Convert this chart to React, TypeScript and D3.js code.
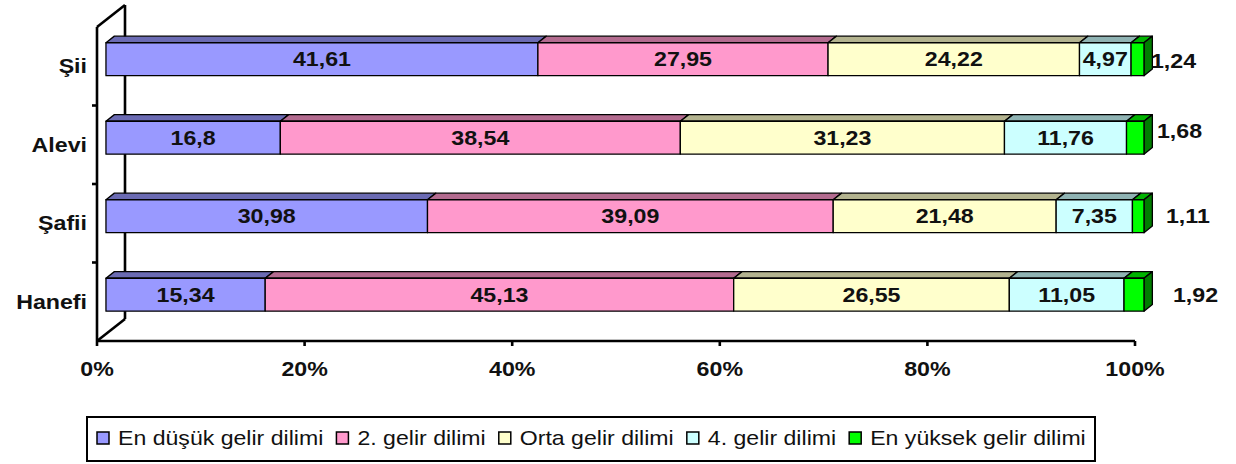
import React from "react";
import * as d3 from "d3";

// categories (top to bottom) and the five income bands
const categories = ["Şii", "Alevi", "Şafii", "Hanefi"];
const seriesNames = [
  "En düşük gelir dilimi",
  "2. gelir dilimi",
  "Orta gelir dilimi",
  "4. gelir dilimi",
  "En yüksek gelir dilimi",
];
const enDusuk = [41.61, 16.8, 30.98, 15.34];
const ikinci = [27.95, 38.54, 39.09, 45.13];
const orta = [24.22, 31.23, 21.48, 26.55];
const dorduncu = [4.97, 11.76, 7.35, 11.05];
const enYuksek = [1.24, 1.68, 1.11, 1.92];
const tickValues = [0, 0.2, 0.4, 0.6, 0.8, 1];

const colors = ["#9999FF", "#FF99CC", "#FFFFCC", "#CCFFFF", "#00FF00"];
// the labels of the last band sit right of the bar, each nudged by hand
const outsideNudge = [[7, 2], [13, -7], [22, 0], [29, 0]];

const W = 1236;
const H = 464;
const FONT = "'Liberation Sans', Arial, sans-serif";
const BOLD_SIZE = 20;
const BOLD_SX = 1.16;
const LEG_SIZE = 20;
const LEG_SX = 1.155;

const floorX0 = 97, floorX1 = 1135, floorY = 341, topY = 27;
const depth = [28, -22];
const barFront = 0.32, barBack = 0.62;

const fmt = (v: number) => String(v).replace(".", ",");

const measure = (() => {
  let ctx: CanvasRenderingContext2D | null = null;
  return (txt: string, font: string) => {
    if (!ctx) ctx = document.createElement("canvas").getContext("2d");
    ctx!.font = font;
    return ctx!.measureText(txt).width;
  };
})();

const series = [enDusuk, ikinci, orta, dorduncu, enYuksek];
const rows = categories.map((c, i) => {
  const r: any = { cat: c };
  seriesNames.forEach((s, j) => (r[s] = series[j][i]));
  return r;
});

const Txt = ({ x, y, sx, anchor, weight, size, children }: any) => (
  <g transform={`translate(${x},${y}) scale(${sx},1)`}>
    <text
      textAnchor={anchor}
      dominantBaseline="central"
      fontFamily={FONT}
      fontWeight={weight}
      fontSize={size}
      fill="#111"
    >
      {children}
    </text>
  </g>
);

export default function App() {
  const x = d3.scaleLinear().domain([0, 1]).range([floorX0, floorX1]);
  const y = d3
    .scaleBand()
    .domain(categories)
    .range([topY, floorY])
    .paddingInner(0.58)
    .paddingOuter(0.29);

  const stacked = d3
    .stack()
    .keys(seriesNames)
    .offset(d3.stackOffsetExpand)(rows);

  const fx = depth[0] * barFront;
  const fy = depth[1] * barFront;
  const ddx = depth[0] * (barBack - barFront);
  const ddy = depth[1] * (barBack - barFront);
  const bh = y.bandwidth();

  const backX = floorX0 + depth[0];
  const lineStyle = { stroke: "#000", strokeWidth: 2.6, fill: "none" };

  // legend layout
  const legFont = `${LEG_SIZE}px ${FONT}`;
  let lx = 97;
  const legItems = seriesNames.map((s, i) => {
    const w = measure(s, legFont) * LEG_SX;
    const item = { name: s, color: colors[i], mx: lx, tx: lx + 21 };
    lx += 21 + w + 13;
    return item;
  });

  return (
    <svg
      width={W}
      height={H}
      style={{ position: "absolute", left: 0, top: 0, background: "#fff" }}
    >
      {/* walls and floor edges */}
      <line x1={floorX0} y1={topY} x2={floorX0} y2={floorY} style={lineStyle} />
      <line x1={backX} y1={topY + depth[1]} x2={backX} y2={floorY + depth[1]} style={lineStyle} />
      <line x1={floorX0} y1={topY} x2={backX} y2={topY + depth[1]} style={lineStyle} />
      <line x1={floorX0} y1={floorY} x2={backX} y2={floorY + depth[1]} style={lineStyle} />
      <line x1={floorX0} y1={floorY} x2={floorX1} y2={floorY} style={lineStyle} />
      {[1, 2, 3].map((k) => (
        <line
          key={k}
          x1={floorX0 - 5}
          x2={floorX0}
          y1={topY + k * y.step()}
          y2={topY + k * y.step()}
          style={lineStyle}
        />
      ))}
      {tickValues.map((t) => (
        <g key={t}>
          <line x1={x(t)} x2={x(t)} y1={floorY} y2={floorY + 5} style={lineStyle} />
          <Txt x={x(t)} y={369} sx={BOLD_SX} anchor="middle" weight="bold" size={BOLD_SIZE}>
            {d3.format(".0%")(t)}
          </Txt>
        </g>
      ))}

      {/* category labels */}
      {categories.map((c) => (
        <Txt key={c} x={87} y={y(c)! + bh / 2} sx={BOLD_SX} anchor="end" weight="bold" size={BOLD_SIZE}>
          {c}
        </Txt>
      ))}

      {/* labels of the last band, partly hidden by the bar side */}
      {categories.map((c, i) => {
        const last = stacked[stacked.length - 1][i];
        return (
          <Txt
            key={c}
            x={x(last[1]) + fx + outsideNudge[i][0]}
            y={y(c)! + fy + bh / 2 + outsideNudge[i][1]}
            sx={BOLD_SX}
            anchor="start"
            weight="bold"
            size={BOLD_SIZE}
          >
            {fmt(enYuksek[i])}
          </Txt>
        );
      })}

      {/* 3D bars */}
      {categories.map((c, i) => {
        const yt = y(c)! + fy;
        const yb = yt + bh;
        return (
          <g key={c}>
            {stacked.map((s, j) => {
              const x0 = x(s[i][0]) + fx;
              const x1 = x(s[i][1]) + fx;
              const col = d3.color(colors[j])!;
              const isLast = j === stacked.length - 1;
              return (
                <g key={j} stroke="#000" strokeWidth={1.3} strokeLinejoin="round">
                  <polygon
                    points={`${x0},${yt} ${x0 + ddx},${yt + ddy} ${x1 + ddx},${yt + ddy} ${x1},${yt}`}
                    fill={col.darker(1).toString()}
                  />
                  {isLast && (
                    <polygon
                      points={`${x1},${yt} ${x1 + ddx},${yt + ddy} ${x1 + ddx},${yb + ddy} ${x1},${yb}`}
                      fill={col.darker(2).toString()}
                    />
                  )}
                  <rect x={x0} y={yt} width={x1 - x0} height={bh} fill={colors[j]} />
                </g>
              );
            })}
            {stacked.slice(0, -1).map((s, j) => {
              const x0 = x(s[i][0]) + fx;
              const x1 = x(s[i][1]) + fx;
              return (
                <Txt
                  key={j}
                  x={(x0 + x1) / 2}
                  y={yt + bh / 2}
                  sx={BOLD_SX}
                  anchor="middle"
                  weight="bold"
                  size={BOLD_SIZE}
                >
                  {fmt(series[j][i])}
                </Txt>
              );
            })}
          </g>
        );
      })}

      {/* legend */}
      <rect x={87} y={417} width={1008} height={44} fill="#fff" stroke="#000" strokeWidth={2} />
      {legItems.map((it) => (
        <g key={it.name}>
          <rect x={it.mx} y={432} width={12} height={12} fill={it.color} stroke="#000" strokeWidth={1.5} />
          <Txt x={it.tx} y={438} sx={LEG_SX} anchor="start" weight="normal" size={LEG_SIZE}>
            {it.name}
          </Txt>
        </g>
      ))}
    </svg>
  );
}
